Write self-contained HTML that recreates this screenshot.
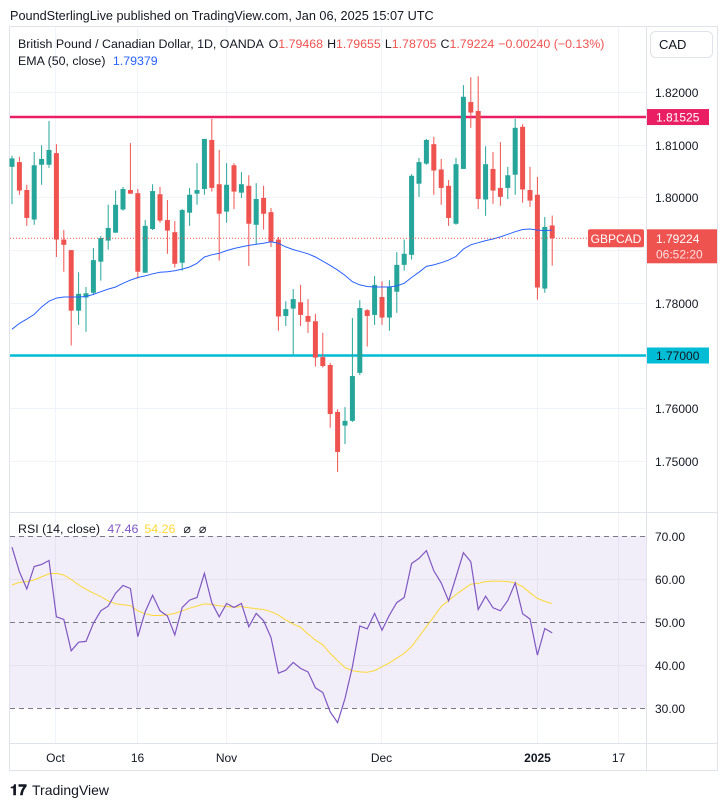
<!DOCTYPE html>
<html><head><meta charset="utf-8">
<style>
body{margin:0;background:#fff;font-family:"Liberation Sans",sans-serif;}
svg{display:block}
text{font-family:"Liberation Sans",sans-serif}
</style></head>
<body>
<svg id="chart" width="728" height="806" viewBox="0 0 728 806" xmlns="http://www.w3.org/2000/svg">
<text x="10" y="20" font-size="12.7" fill="#131722">PoundSterlingLive published on TradingView.com, Jan 06, 2025 15:07 UTC</text>
<rect x="9.5" y="26.5" width="708" height="744" fill="#fff" stroke="#e0e3eb"/>
<g id="grid"></g>
<rect x="10" y="536" width="636" height="172" fill="#7e57c2" fill-opacity="0.1"/>
<g id="hlines"></g>
<g id="candles"></g>
<g id="lines"></g>
<line x1="646.5" y1="27" x2="646.5" y2="770" stroke="#e0e3eb"/>
<line x1="10" y1="512.5" x2="717" y2="512.5" stroke="#e0e3eb"/>
<line x1="10" y1="743.5" x2="717" y2="743.5" stroke="#e0e3eb"/>
<g id="axes"></g>
<g font-size="12.4">
<text x="18" y="48" fill="#131722">British Pound / Canadian Dollar, 1D, OANDA <tspan dx="2">O</tspan><tspan fill="#ef5350">1.79468</tspan><tspan dx="4">H</tspan><tspan fill="#ef5350">1.79655</tspan><tspan dx="4">L</tspan><tspan fill="#ef5350">1.78705</tspan><tspan dx="4">C</tspan><tspan fill="#ef5350">1.79224</tspan><tspan dx="4" fill="#ef5350">−0.00240 (−0.13%)</tspan></text>
<text x="18" y="65" fill="#131722">EMA (50, close) <tspan dx="4" fill="#2962ff">1.79379</tspan></text>
<text x="18" y="533" fill="#131722">RSI (14, close) <tspan dx="4" fill="#7e57c2">47.46</tspan><tspan dx="6" fill="#fdd835">54.26</tspan><tspan dx="8">⌀</tspan><tspan dx="8">⌀</tspan></text>
</g>
<rect x="650.5" y="31.5" width="62" height="26" rx="5" fill="#fff" stroke="#e0e3eb"/>
<text x="659" y="49" font-size="13" fill="#131722">CAD</text>
<g>
<text x="10" y="795" font-size="15" font-weight="bold" fill="#131722">𝟏𝟕</text>
<text x="32" y="795" font-size="14" fill="#131722">TradingView</text>
</g>
</svg>
<script>
const opens=[1.8058,1.8067,1.8014,1.7958,1.8062,1.8062,1.8084,1.7920,1.7900,1.7785,1.7810,1.7819,1.7878,1.7918,1.7933,1.7977,1.8014,1.8008,1.7857,1.7940,1.8006,1.7957,1.7934,1.7876,1.7971,1.8007,1.8016,1.8109,1.8025,1.7973,1.8061,1.8009,1.8022,1.7948,1.7999,1.7972,1.7920,1.7775,1.7789,1.7801,1.7775,1.7765,1.7697,1.7682,1.7593,1.7567,1.7576,1.7667,1.7786,1.7777,1.7811,1.7772,1.7821,1.7872,1.7891,1.8026,1.8064,1.8101,1.8053,1.8022,1.7950,1.8054,1.8181,1.8164,1.7996,1.8054,1.8018,1.8018,1.8043,1.8134,1.8014,1.8005,1.7827,1.79468];
const highs=[1.8079,1.8077,1.8024,1.8086,1.8099,1.8145,1.8101,1.7938,1.7900,1.7858,1.7830,1.7904,1.7927,1.7986,1.8013,1.8020,1.8103,1.8016,1.7957,1.8025,1.8020,1.7995,1.7955,1.7978,1.8018,1.8065,1.8111,1.8149,1.8090,1.8065,1.8065,1.8048,1.8042,1.8027,1.8022,1.7980,1.7925,1.7803,1.7826,1.7834,1.7807,1.7779,1.7743,1.7686,1.7598,1.7602,1.7771,1.7805,1.7788,1.7851,1.7841,1.7843,1.7896,1.7920,1.8044,1.8075,1.8111,1.8115,1.8073,1.8033,1.8075,1.8213,1.8228,1.8230,1.8097,1.8086,1.8105,1.8058,1.8149,1.8139,1.8058,1.8039,1.7963,1.79655];
const lows=[1.7987,1.8005,1.7946,1.7948,1.8024,1.8056,1.7887,1.7859,1.7719,1.7758,1.7745,1.7815,1.7842,1.7901,1.7933,1.7975,1.8007,1.7846,1.7857,1.7938,1.7952,1.7893,1.7867,1.7861,1.7946,1.7986,1.8005,1.8011,1.7880,1.7952,1.7978,1.7999,1.7870,1.7910,1.7939,1.7906,1.7747,1.7756,1.7701,1.7756,1.7743,1.7679,1.7677,1.7563,1.7479,1.7532,1.7574,1.7663,1.7717,1.7758,1.7758,1.7747,1.7781,1.7861,1.7882,1.8001,1.8062,1.8005,1.7986,1.7946,1.7948,1.8054,1.8132,1.7978,1.7965,1.7988,1.7984,1.7997,1.8005,1.7990,1.7982,1.7806,1.7819,1.78705];
const closes=[1.8074,1.8013,1.7961,1.8061,1.8073,1.8090,1.7920,1.7910,1.7785,1.7817,1.7818,1.7881,1.7923,1.7942,1.7986,1.8016,1.8007,1.7859,1.7946,1.8012,1.7956,1.7937,1.7874,1.7976,1.8005,1.8014,1.8111,1.8018,1.7969,1.8024,1.8011,1.8025,1.7950,1.7997,1.7969,1.7916,1.7774,1.7788,1.7807,1.7777,1.7764,1.7696,1.7680,1.7589,1.7517,1.7576,1.7661,1.7790,1.7775,1.7834,1.7772,1.7830,1.7872,1.7893,1.8041,1.8067,1.8109,1.8051,1.8018,1.7961,1.8063,1.8191,1.8161,1.7997,1.8063,1.8013,1.8001,1.8042,1.8132,1.8015,1.7994,1.7829,1.7944,1.79224];
const ema=[1.7750,1.7761,1.7769,1.7778,1.7792,1.7803,1.7809,1.7811,1.7811,1.7811,1.7812,1.7816,1.7821,1.7826,1.7830,1.7837,1.7843,1.7848,1.7851,1.7855,1.7858,1.7859,1.7861,1.7864,1.7868,1.7875,1.7887,1.7891,1.7894,1.7899,1.7903,1.7906,1.7909,1.7911,1.7913,1.7916,1.7913,1.7906,1.7901,1.7897,1.7893,1.7887,1.7879,1.7871,1.7862,1.7852,1.7840,1.7834,1.7831,1.7830,1.7830,1.7830,1.7832,1.7837,1.7848,1.7858,1.7869,1.7872,1.7876,1.7881,1.7888,1.7902,1.7910,1.7914,1.7918,1.7921,1.7925,1.7930,1.7935,1.7939,1.7940,1.7938,1.7937,1.79379];
const rsi=[67.4,61.7,57.7,62.9,63.4,64.3,51.2,50.6,43.3,45.3,45.5,49.7,52.6,53.7,56.7,58.5,57.8,46.6,52.4,56.2,52.6,51.4,47.0,53.4,55.1,55.7,61.3,54.5,51.2,54.3,53.4,54.3,48.9,52.0,50.3,46.4,38.1,38.8,40.6,39.2,38.4,34.7,33.6,29.1,26.6,32.2,39.6,49.1,48.4,52.0,48.1,51.6,54.5,55.7,63.6,64.8,66.6,61.9,59.1,54.9,60.5,66.1,64.0,52.9,56.0,53.3,52.6,55.0,59.1,51.9,50.7,42.3,48.5,47.46];
const rsiMa=[58.6,59.2,59.4,59.8,60.5,61.2,61.3,60.9,59.9,58.6,57.6,56.7,55.9,54.9,54.2,54.0,53.8,52.6,51.9,51.5,51.5,51.7,52.0,52.6,53.2,53.7,54.2,54.1,53.8,53.6,53.4,53.6,53.3,53.1,52.9,52.4,51.6,50.5,49.5,48.8,47.2,45.8,44.7,42.7,41.0,39.4,38.7,38.4,38.3,38.7,39.6,40.5,41.6,42.7,44.3,46.6,48.9,51.2,53.6,55.0,56.4,57.6,58.8,59.0,59.4,59.5,59.5,59.4,59.1,58.2,56.8,55.5,54.8,54.26];
const priceTicks=[1.82,1.81,1.80,1.79,1.78,1.77,1.76,1.75];
const priceTickLabels=["1.82000","1.81000","1.80000","1.79000","1.78000","1.77000","1.76000","1.75000"];
const rsiTicks=[70,60,50,40,30];
const rsiTickLabels=["70.00","60.00","50.00","40.00","30.00"];
const dateLabels=["Oct","16","Nov","Dec","2025","17"];
const dateIndex=[5.8,16.9,28.9,49.8,71,81.9];
const resistance=1.81525, support=1.77;

const NS="http://www.w3.org/2000/svg";
const X0=12, DX=7.4;
function xI(i){return X0+DX*i;}
function yP(p){return 92+(1.82-p)*5270;}
function yR(v){return 536+(70-v)*4.3;}
function mk(tag,attrs,parent){const e=document.createElementNS(NS,tag);for(const k in attrs)e.setAttribute(k,attrs[k]);parent.appendChild(e);return e;}
const grid=document.getElementById('grid'),hl=document.getElementById('hlines'),cg=document.getElementById('candles'),lg=document.getElementById('lines'),ax=document.getElementById('axes');

priceTicks.forEach((p,k)=>{
  const y=Math.round(yP(p))+0.5;
  const l=mk('line',{x1:10,x2:646,y1:y,y2:y,stroke:'#f0f3fa'},grid);
  
  
  if(p!==1.79&&p!==1.77){
    const t=mk('text',{x:655,y:y+4.5,'font-size':12,fill:'#131722'},ax);t.textContent=priceTickLabels[k];
    
    
  }
});
rsiTicks.forEach((v,k)=>{
  const y=Math.round(yR(v))+0.5;
  const dashed=(v!==60&&v!==40);
  const l=mk('line',{x1:10,x2:646,y1:y,y2:y,stroke:dashed?'#787b86':'#e6e3ee','stroke-dasharray':dashed?'5,4':'none'},hl);
  
  
  const t=mk('text',{x:655,y:y+4.5,'font-size':12,fill:'#131722'},ax);t.textContent=rsiTickLabels[k];
  
  
});
dateLabels.forEach((d,k)=>{
  const x=Math.round(xI(dateIndex[k]))+0.5;
  const l=mk('line',{x1:x,x2:x,y1:27,y2:743,stroke:'#f0f3fa'},grid);
  
  
  const t=mk('text',{x:x,y:762,'font-size':12,fill:'#131722','text-anchor':'middle','font-weight':d==='2025'?'bold':'normal'},ax);t.textContent=d;
  
  
});
[[resistance,'#e91e63','resistance'],[support,'#00bcd4','support']].forEach(([p,c,n])=>{
  const y=yP(p);
  const l=mk('line',{x1:10,x2:646,y1:y,y2:y,stroke:c,'stroke-width':2.5},hl);
  
  
  const r=mk('rect',{x:647,y:y-8,width:62,height:16,fill:c},ax);
  
  
  const t=mk('text',{x:656,y:y+4.5,'font-size':12,fill:n==='support'?'#131722':'#fff'},ax);t.textContent=p.toFixed(5);
  
  
});
for(let i=0;i<opens.length;i++){
  const up=closes[i]>=opens[i];const c=up?'#26a69a':'#ef5350';
  const x=xI(i);
  const w=mk('line',{x1:x,x2:x,y1:yP(highs[i]),y2:yP(lows[i]),stroke:c,'stroke-width':1},cg);
  
  
  const top=yP(Math.max(opens[i],closes[i])),bot=yP(Math.min(opens[i],closes[i]));
  const b=mk('rect',{x:x-2.5,y:top,width:5,height:Math.max(1,bot-top),fill:c},cg);
  
  
}
function path(arr,fy){return arr.map((v,i)=>(i?'L':'M')+xI(i).toFixed(1)+','+fy(v).toFixed(1)).join(' ');}
const e=mk('path',{d:path(ema,yP),fill:'none',stroke:'#2962ff','stroke-width':1},lg);


const rm=mk('path',{d:path(rsiMa,yR),fill:'none',stroke:'#fdd835','stroke-width':1},lg);


const rl=mk('path',{d:path(rsi,yR),fill:'none',stroke:'#7e57c2','stroke-width':1.2},lg);


const last=closes[closes.length-1];const yc=yP(last);
const cl=mk('line',{x1:10,x2:646,y1:yc,y2:yc,stroke:'#ef5350','stroke-dasharray':'1,2'},lg);


const sr=mk('rect',{x:588,y:yc-9,width:56,height:18,rx:2,fill:'#ef5350'},ax);


const st=mk('text',{x:616,y:yc+4.5,'font-size':12,fill:'#fff','text-anchor':'middle'},ax);st.textContent='GBPCAD';


const pr=mk('rect',{x:647,y:yc-9,width:70,height:34,fill:'#ef5350'},ax);


const pt=mk('text',{x:656,y:yc+4.5,'font-size':12,fill:'#fff'},ax);pt.textContent=last.toFixed(5);


const ct=mk('text',{x:656,y:yc+20,'font-size':12,fill:'#fde0e0'},ax);ct.textContent='06:52:20';


</script>
</body></html>
